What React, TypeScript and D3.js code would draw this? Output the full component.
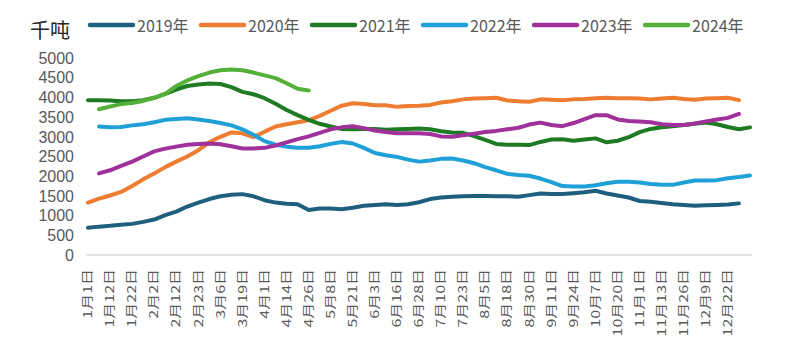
import * as d3 from 'd3'

const W = 799
const H = 363

// x-axis labels (every other category is labelled)
const xLabels = [
  '1月1日', '1月12日', '1月22日', '2月2日', '2月12日', '2月23日', '3月6日', '3月19日',
  '4月1日', '4月14日', '4月26日', '5月8日', '5月21日', '6月3日', '6月16日', '6月28日',
  '7月10日', '7月23日', '8月5日', '8月18日', '8月30日', '9月11日', '9月24日', '10月7日',
  '10月20日', '11月1日', '11月13日', '11月26日', '12月9日', '12月22日',
]
const categoryCount = 61

const yTicks = [0, 500, 1000, 1500, 2000, 2500, 3000, 3500, 4000, 4500, 5000]

const v2019 = [
  690, 720, 740, 770, 790, 840, 900, 1010, 1100, 1230, 1330, 1420, 1490, 1530, 1545, 1490,
  1390, 1330, 1300, 1290, 1140, 1180, 1180, 1160, 1200, 1250, 1270, 1290, 1270, 1290, 1340,
  1420, 1460, 1480, 1490, 1500, 1500, 1490, 1490, 1480, 1520, 1560, 1550, 1550, 1570, 1590,
  1630, 1560, 1510, 1460, 1370, 1350, 1320, 1290, 1270, 1250, 1260, 1270, 1280, 1310, null,
]
const v2020 = [
  1330, 1430, 1510, 1600, 1750, 1920, 2070, 2230, 2370, 2500, 2660, 2860, 3000, 3110, 3090,
  2990, 3130, 3260, 3320, 3370, 3420, 3530, 3660, 3790, 3850, 3830, 3800, 3800, 3760, 3780,
  3790, 3810, 3870, 3900, 3950, 3970, 3980, 3990, 3920, 3900, 3890, 3950, 3940, 3930, 3950,
  3960, 3980, 3990, 3980, 3980, 3970, 3950, 3970, 3990, 3960, 3940, 3970, 3980, 3990, 3930,
  null,
]
const v2021 = [
  3930, 3930, 3920, 3900, 3900, 3930, 3990, 4090, 4200, 4290, 4330, 4350, 4340, 4260, 4140,
  4080, 3980, 3840, 3680, 3550, 3430, 3330, 3260, 3200, 3190, 3200, 3200, 3180, 3190, 3200,
  3210, 3190, 3140, 3110, 3100, 3020, 2920, 2820, 2800, 2800, 2790, 2870, 2930, 2940, 2900,
  2930, 2960, 2860, 2900, 2990, 3120, 3200, 3240, 3270, 3300, 3330, 3360, 3320, 3250, 3190,
  3240,
]
const v2022 = [
  null, 3260, 3240, 3250, 3290, 3320, 3370, 3430, 3450, 3470, 3440, 3400, 3350, 3290, 3190,
  3050, 2890, 2800, 2750, 2720, 2720, 2760, 2820, 2870, 2830, 2720, 2590, 2530, 2490, 2420,
  2370, 2400, 2440, 2450, 2400, 2330, 2230, 2150, 2060, 2030, 2010, 1940, 1850, 1750, 1740,
  1740, 1770, 1820, 1860, 1860, 1840, 1800, 1780, 1780, 1840, 1890, 1890, 1900, 1950, 1980,
  2020,
]
const v2023 = [
  null, 2070, 2150, 2260, 2370, 2500, 2630, 2700, 2750, 2800, 2820, 2830, 2810, 2760, 2705,
  2705, 2720, 2780, 2860, 2940, 3010, 3100, 3190, 3240, 3270, 3220, 3160, 3120, 3090, 3090,
  3090, 3070, 3010, 3000, 3040, 3080, 3120, 3150, 3190, 3230, 3310, 3360, 3300, 3270, 3350,
  3450, 3550, 3550, 3440, 3400, 3390, 3370, 3320, 3300, 3300, 3340, 3390, 3440, 3480, 3580,
  null,
]
const v2024 = [
  null, 3700, 3770, 3830, 3860, 3910, 3990, 4090, 4290, 4430, 4540, 4630, 4690, 4710, 4690,
  4630, 4560, 4490, 4360, 4220, 4175,
]

const seriesNames = ['2019年', '2020年', '2021年', '2022年', '2023年', '2024年']
const seriesValues = [v2019, v2020, v2021, v2022, v2023, v2024]
const seriesColors = ['#1f5f7e', '#ee7d31', '#1f7a24', '#1fa0d8', '#a0309a', '#55b03a']

const FONT = '"Noto Sans CJK SC", "Noto Sans", sans-serif'
const NUM_FONT = '"Liberation Sans", Arial, sans-serif'

export default function App() {
  const x = d3.scaleLinear().domain([0, categoryCount - 1]).range([88, 750])
  const y = d3.scaleLinear().domain([0, 5000]).range([255, 58])

  const line = d3.line<number | null>()
    .defined(d => d != null)
    .x((_, i) => x(i))
    .y(d => y(d as number))

  return (
    <svg width={W} height={H} style={{ position: 'absolute', left: 0, top: 0, background: '#fff' }}>
      {/* unit */}
      <text x={30} y={29} fontFamily={FONT} fontSize={20} fill="#262626" dominantBaseline="central">千吨</text>

      {/* legend */}
      {seriesNames.map((name, k) => {
        const lx = 90 + k * 111
        return (
          <g key={name}>
            <line x1={lx} x2={lx + 43} y1={25} y2={25} stroke={seriesColors[k]} strokeWidth={4.5} strokeLinecap="round" />
            <text x={lx + 47} y={25} fontFamily={FONT} fontSize={16} fill="#595959" dominantBaseline="central">{name}</text>
          </g>
        )
      })}

      {/* y ticks */}
      {yTicks.map(t => (
        <text key={t} x={74} y={y(t)} textAnchor="end" dy="0.36em"
          fontFamily={NUM_FONT} fontSize={16} fill="#595959">{t}</text>
      ))}

      {/* x axis */}
      <line x1={86} x2={752} y1={y(0)} y2={y(0)} stroke="#d9d9d9" strokeWidth={1.5} />
      {xLabels.map((l, i) => (
        <text key={l} transform={`translate(${x(i * 2)},269) scale(0.75,1) rotate(-90)`}
          textAnchor="end" dy="0.35em" fontFamily={FONT} fontSize={16} fill="#595959">{l}</text>
      ))}

      {/* series */}
      {seriesValues.map((vals, k) => (
        <path key={k} d={line(vals) || ''} fill="none" stroke={seriesColors[k]} strokeWidth={4}
          strokeLinecap="round" strokeLinejoin="round" />
      ))}
    </svg>
  )
}
